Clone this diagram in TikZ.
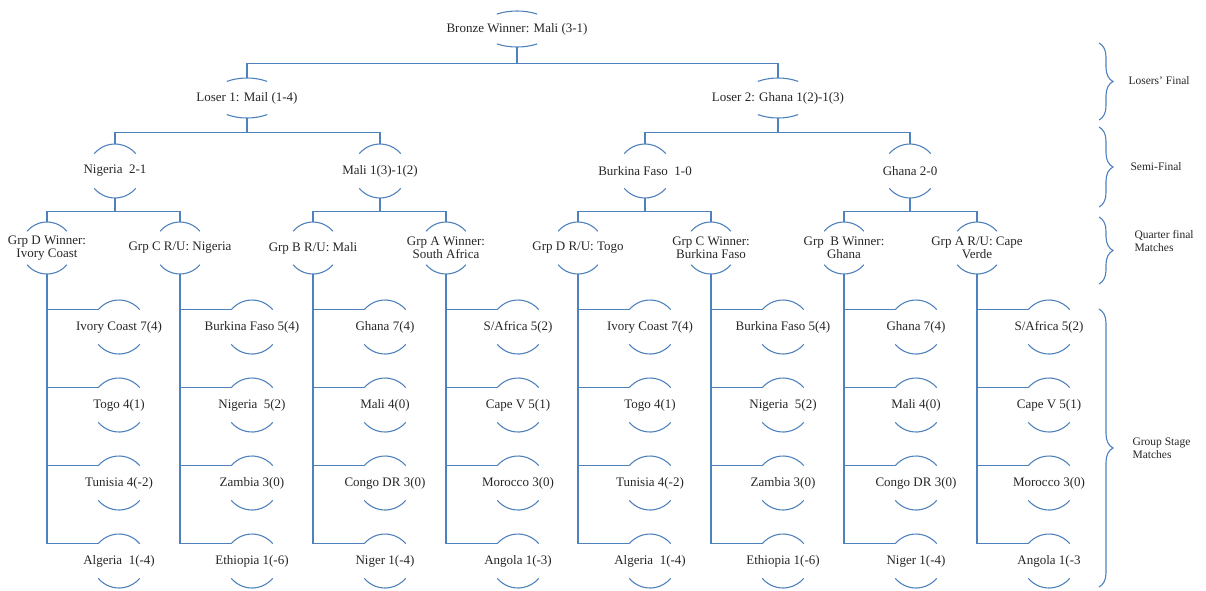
\documentclass[tikz,border=0pt]{standalone}
\usepackage{fontspec}
\setmainfont{Liberation Serif}
\usepackage{tikz}
\usetikzlibrary{calc}
\usetikzlibrary{decorations.pathreplacing}
\definecolor{linkblue}{RGB}{79,129,189}
\tikzstyle{final} = [rectangle, minimum height=40pt, inner sep=0pt]
\tikzstyle{team} = [rectangle, minimum height=54pt, inner sep=0pt, align=center]
\tikzstyle{quarter} = [rectangle, minimum height=52pt, inner sep=0pt, align=center]
\tikzstyle{link} = [draw=linkblue, line width=1.1pt]
\tikzstyle{rim} = [draw=linkblue, line width=1.1pt]
\tikzstyle{stage} = [anchor=west, align=left, font=\fontsize{11.5}{13.5}\selectfont]
\tikzstyle{every node}=[font=\fontsize{13}{13.5}\selectfont, text=black!85]

\begin{document}
\begin{tikzpicture}[x=1pt, y=1pt]
		\useasboundingbox (0,0) rectangle (1206,-590);
		% bronze match and losers' final
		\node (bronze) [final, minimum height=36pt] at (517,-29) {Bronze Winner: Mali (3-1)};
		\node (lose1) [final] at (247,-98) {Loser 1: Mail (1-4)};
		\node (lose2) [final] at (778,-98) {Loser 2: Ghana 1(2)-1(3)};
		
		% semi-final
		\node (semi1) [team] at (115,-171) {Nigeria\ \ 2-1};
		\node (semi2) [team] at (380,-171) {Mali 1(3)-1(2)};
		\node (semi3) [team] at (645,-171) {Burkina Faso\ \ 1-0};
		\node (semi4) [team] at (910,-171) {Ghana 2-0};
		
		% quarter final
		\node (qf1) [quarter] at (47,-248) {Grp D Winner:\\Ivory Coast};
		\node (qf2) [quarter] at (180,-248) {Grp C R/U: Nigeria};
		\node (qf3) [quarter] at (313,-248) {Grp B R/U: Mali};
		\node (qf4) [quarter] at (446,-248) {Grp A Winner:\\South Africa};
		\node (qf5) [quarter] at (578,-248) {Grp D R/U: Togo};
		\node (qf6) [quarter] at (711,-248) {Grp C Winner:\\Burkina Faso};
		\node (qf7) [quarter] at (844,-248) {Grp\ \ B Winner:\\Ghana};
		\node (qf8) [quarter] at (977,-248) {Grp A R/U: Cape\\Verde};
		
		% group stage
		\node (gs11) [team] at (119,-327) {Ivory Coast 7(4)};
		\node (gs12) [team] at (119,-405) {Togo 4(1)};
		\node (gs13) [team] at (119,-483) {Tunisia 4(-2)};
		\node (gs14) [team] at (119,-561) {Algeria\ \ 1(-4)};
		\node (gs21) [team] at (252,-327) {Burkina Faso 5(4)};
		\node (gs22) [team] at (252,-405) {Nigeria\ \ 5(2)};
		\node (gs23) [team] at (252,-483) {Zambia 3(0)};
		\node (gs24) [team] at (252,-561) {Ethiopia 1(-6)};
		\node (gs31) [team] at (385,-327) {Ghana 7(4)};
		\node (gs32) [team] at (385,-405) {Mali 4(0)};
		\node (gs33) [team] at (385,-483) {Congo DR 3(0)};
		\node (gs34) [team] at (385,-561) {Niger 1(-4)};
		\node (gs41) [team] at (518,-327) {S/Africa 5(2)};
		\node (gs42) [team] at (518,-405) {Cape V 5(1)};
		\node (gs43) [team] at (518,-483) {Morocco 3(0)};
		\node (gs44) [team] at (518,-561) {Angola 1(-3)};
		\node (gs51) [team] at (650,-327) {Ivory Coast 7(4)};
		\node (gs52) [team] at (650,-405) {Togo 4(1)};
		\node (gs53) [team] at (650,-483) {Tunisia 4(-2)};
		\node (gs54) [team] at (650,-561) {Algeria\ \ 1(-4)};
		\node (gs61) [team] at (783,-327) {Burkina Faso 5(4)};
		\node (gs62) [team] at (783,-405) {Nigeria\ \ 5(2)};
		\node (gs63) [team] at (783,-483) {Zambia 3(0)};
		\node (gs64) [team] at (783,-561) {Ethiopia 1(-6)};
		\node (gs71) [team] at (916,-327) {Ghana 7(4)};
		\node (gs72) [team] at (916,-405) {Mali 4(0)};
		\node (gs73) [team] at (916,-483) {Congo DR 3(0)};
		\node (gs74) [team] at (916,-561) {Niger 1(-4)};
		\node (gs81) [team] at (1049,-327) {S/Africa 5(2)};
		\node (gs82) [team] at (1049,-405) {Cape V 5(1)};
		\node (gs83) [team] at (1049,-483) {Morocco 3(0)};
		\node (gs84) [team] at (1049,-561) {Angola 1(-3};
		
		% arcs above and below each name
		\foreach \n/\ry in {bronze/18pt, lose1/20pt, lose2/20pt}
			\draw[rim] (\n.center) ++(124:36pt and \ry) arc[start angle=124, end angle=56, x radius=36pt, y radius=\ry]
			           (\n.center) ++(236:36pt and \ry) arc[start angle=236, end angle=304, x radius=36pt, y radius=\ry];
		\foreach \n in {semi1,semi2,semi3,semi4}
			\draw[rim] (\n.center) ++(140:27pt) arc[start angle=140, end angle=40, radius=27pt]
			           (\n.center) ++(220:27pt) arc[start angle=220, end angle=320, radius=27pt];
		\foreach \c in {1,...,8}{
			\draw[rim] (qf\c.center) ++(140:26pt) arc[start angle=140, end angle=40, radius=26pt]
			           (qf\c.center) ++(220:26pt) arc[start angle=220, end angle=320, radius=26pt];
			\foreach \r in {1,...,4}
				\draw[rim] (gs\c\r.center) ++(140:27pt) arc[start angle=140, end angle=40, radius=27pt]
				           (gs\c\r.center) ++(220:27pt) arc[start angle=220, end angle=320, radius=27pt];
		}
		
		% bronze to losers' final
		\draw [link](bronze.south) -- ++(0,-16) -| (lose1.north);
		\draw [link](bronze.south) -- ++(0,-16) -| (lose2.north);
		% losers' final to semi-final
		\draw [link](lose1.south) -- ++(0,-14) -| (semi1.north);
		\draw [link](lose1.south) -- ++(0,-14) -| (semi2.north);
		\draw [link](lose2.south) -- ++(0,-14) -| (semi3.north);
		\draw [link](lose2.south) -- ++(0,-14) -| (semi4.north);
		% semi-final to quarter final
		\draw [link](semi1.south) -- ++(0,-13) -| (qf1.north);
		\draw [link](semi1.south) -- ++(0,-13) -| (qf2.north);
		\draw [link](semi2.south) -- ++(0,-13) -| (qf3.north);
		\draw [link](semi2.south) -- ++(0,-13) -| (qf4.north);
		\draw [link](semi3.south) -- ++(0,-13) -| (qf5.north);
		\draw [link](semi3.south) -- ++(0,-13) -| (qf6.north);
		\draw [link](semi4.south) -- ++(0,-13) -| (qf7.north);
		\draw [link](semi4.south) -- ++(0,-13) -| (qf8.north);
		% quarter final to group stage
		\foreach \c in {1,...,8}
			\foreach \r in {1,...,4}
				\draw [link](qf\c.south) |- ($(gs\c\r.center)+(140:27pt)$);
		
		% stage braces
		\node (lab1) [stage] at (1125,-81) {Losers' Final};
		\node (lab2) [stage] at (1127,-167) {Semi-Final};
		\node (lab3) [stage] at (1131,-241) {Quarter final\\Matches};
		\node (lab4) [stage] at (1129,-448) {Group Stage\\Matches};
		\draw [link, decorate, decoration={brace, amplitude=14pt}] (1099,-43) -- (1099,-120);
		\draw [link, decorate, decoration={brace, amplitude=14pt}] (1099,-127) -- (1099,-207);
		\draw [link, decorate, decoration={brace, amplitude=14pt}] (1099,-217) -- (1099,-284);
		\draw [link, decorate, decoration={brace, amplitude=14pt}] (1099,-309) -- (1099,-587);
	\end{tikzpicture}
\end{document}
